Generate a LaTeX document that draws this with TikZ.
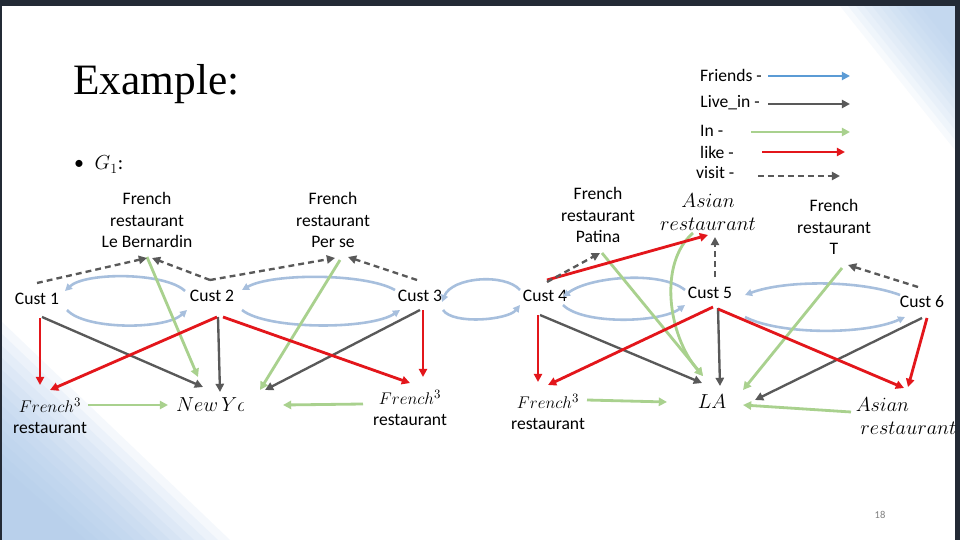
\documentclass[tikz,border=0pt]{standalone}
\usepackage{fontspec}
\setmainfont{Carlito}
\newfontfamily\titlefont{Liberation Serif}
\usetikzlibrary{arrows.meta}
\definecolor{friendblue}{HTML}{5B9BD5}
\definecolor{friendarc}{HTML}{A7BFDD}
\definecolor{liveingray}{HTML}{595959}
\definecolor{ingreen}{HTML}{A9D18E}
\definecolor{likered}{HTML}{E3161B}
\definecolor{framedark}{HTML}{232A35}
\definecolor{bgblue}{HTML}{A9C8EA}

\begin{document}
\begin{tikzpicture}[x=0.03cm, y=-0.03cm, >={Triangle[length=7pt,width=7pt]}]
    % Stili
    \tikzstyle{lbl} = [font=\fontsize{15}{18.5}\selectfont, align=center, inner sep=2pt]
    \tikzstyle{mlbl} = [font=\fontsize{16.5}{19}\selectfont, align=center, inner sep=2pt]
    \tikzstyle{legend} = [font=\fontsize{15}{18}\selectfont, inner sep=0pt]
    \tikzstyle{friends} = [->, draw=friendarc, line width=2.2pt, >={Triangle[length=6pt,width=6pt]}]
    \tikzstyle{livein} = [->, draw=liveingray, line width=2pt]
    \tikzstyle{inrel} = [->, draw=ingreen, line width=2.4pt]
    \tikzstyle{likes} = [->, draw=likered, line width=2.4pt]
    \tikzstyle{visits} = [->, draw=liveingray, line width=2pt, dash pattern=on 5pt off 3.5pt]

    % Sfondo
    \useasboundingbox (0,0) rectangle (960,540);
    \fill[white] (0,0) rectangle (960,540);
    \foreach \d in {0,12,...,144}
        \fill[bgblue, fill opacity=0.11] (0,320+\d) -- (0,540) -- (230-\d,540) -- cycle;
    \foreach \d in {0,8,...,80}
        \fill[bgblue, fill opacity=0.09] (840+\d,6) -- (955,6) -- (955,{150-1.25*\d}) -- cycle;
    \fill[framedark] (0,0) rectangle (960,6);
    \fill[framedark] (955,0) rectangle (960,540);
    \fill[framedark] (0,0) rectangle (2,540);

    % Titolo
    \node[anchor=base west, font=\titlefont\fontsize{37}{40}\selectfont, inner sep=0pt] (title) at (73,95) {Example:};
    \node[anchor=base west, inner sep=0pt, font=\fontsize{17}{19}\selectfont] (g1) at (74,170) {\textbullet\hspace{9pt}$G_1$:};

    % Legenda
    \node[legend, anchor=east] (lgfr) at (762,75) {Friends -};
    \node[legend, anchor=east] (lgli) at (760,103) {Live\_in -};
    \node[legend, anchor=west] (lgin) at (700,131) {In -};
    \node[legend, anchor=west] (lglk) at (700,152) {like -};
    \node[legend, anchor=west] (lgvi) at (696,173) {visit -};
    \coordinate (efr) at (850,76);
    \coordinate (eli) at (850,104);
    \coordinate (ein) at (850,132);
    \coordinate (elk) at (845,152);
    \coordinate (evi) at (840,176);
    \draw[->, draw=friendblue, line width=1.6pt] ([shift={(6,1)}]lgfr.east) -- (efr);
    \draw[livein] ([shift={(8,1)}]lgli.east) -- (eli);
    \draw[inrel] ([shift={(51,1)}]lgin.west) -- (ein);
    \draw[likes] ([shift={(62,0)}]lglk.west) -- (elk);
    \draw[visits] ([shift={(62,3)}]lgvi.west) -- (evi);

    % Nodi
    \node[lbl] (bern) at (147,220) {French\\restaurant\\Le Bernardin};
    \node[lbl] (perse) at (333,220) {French\\restaurant\\Per se};
    \node[lbl] (patina) at (598,215) {French\\restaurant\\Patina};
    \node[mlbl] (asiantop) at (708,212) {$Asian$\\$restaurant$};
    \node[lbl] (frt) at (834,227) {French\\restaurant\\T};
    \node[lbl] (c1) at (37,299) {Cust 1};
    \node[lbl] (c2) at (212,296) {Cust 2};
    \node[lbl] (c3) at (420,296) {Cust 3};
    \node[lbl] (c4) at (545,296) {Cust 4};
    \node[lbl] (c5) at (710,293) {Cust 5};
    \node[lbl] (c6) at (922,302) {Cust 6};
    \node[lbl] (fr1) at (50,416) {$French^3$\\restaurant};
    \begin{scope}
        \clip (170,385) rectangle (243,425);
        \node[mlbl, anchor=west, inner sep=0pt] (ny) at (176,404) {$New\,York$};
    \end{scope}
    \node[lbl] (fr2) at (410,408) {$French^3$\\restaurant};
    \node[lbl] (fr3) at (548,412) {$French^3$\\restaurant};
    \node[mlbl] (la) at (712,402) {$LA$};
    \node[mlbl, align=left] (asianbot) at (906,416) {$Asian$\\\hspace{4pt}$restaurant$};
    \node[font=\fontsize{9}{10}\selectfont, text=gray] (pnum) at (880,515) {18};

    % Friends
    \draw[friends] ([shift={(-27,-5)}]c2.center) .. controls +(-20,-19) and +(20,-19) .. ([shift={(28,-8)}]c1.center);
    \draw[friends] ([shift={(30,11)}]c1.center) .. controls +(18,20) and +(-22,20) .. ([shift={(-25,14)}]c2.center);
    \draw[friends] ([shift={(-25,-6)}]c3.center) .. controls +(-30,-17) and +(30,-17) .. ([shift={(30,-6)}]c2.center);
    \draw[friends] ([shift={(30,14)}]c2.center) .. controls +(25,20) and +(-30,20) .. ([shift={(-20,14)}]c3.center);
    \draw[friends] ([shift={(-25,-6)}]c4.center) .. controls +(-15,-17) and +(10,-25) .. ([shift={(22,6)}]c3.center);
    \draw[friends] ([shift={(23,14)}]c3.center) .. controls +(10,15) and +(-12,15) .. ([shift={(-25,9)}]c4.center);
    \draw[friends] ([shift={(-25,-3)}]c5.center) .. controls +(-25,-20) and +(25,-20) .. ([shift={(18,1)}]c4.center);
    \draw[friends] ([shift={(18,9)}]c4.center) .. controls +(20,20) and +(-25,18) .. ([shift={(-25,12)}]c5.center);
    \draw[friends] ([shift={(-22,-7)}]c6.center) .. controls +(-40,-15) and +(40,-15) .. ([shift={(35,2)}]c5.center);
    \draw[friends] ([shift={(35,24)}]c5.center) .. controls +(35,18) and +(-40,18) .. ([shift={(-17,15)}]c6.center);

    % Live_in
    \draw[livein] ([shift={(5,18)}]c1.center) -- ([shift={(27,-17)}]ny.west);
    \draw[livein] ([shift={(6,21)}]c2.center) -- ([shift={(44,-12)}]ny.west);
    \draw[livein] ([shift={(0,14)}]c3.center) -- ([shift={(89,-14)}]ny.west);
    \draw[livein] ([shift={(-5,19)}]c4.center) -- ([shift={(-10,-19)}]la.center);
    \draw[livein] ([shift={(8,15)}]c5.center) -- ([shift={(8,-16)}]la.center);
    \draw[livein] ([shift={(0,16)}]c6.center) -- ([shift={(43,-2)}]la.center);

    % In
    \draw[inrel] ([shift={(0,37)}]bern.center) -- ([shift={(22,-27)}]ny.west);
    \draw[inrel] ([shift={(38,-11)}]fr1.center) -- ([shift={(-8,1)}]ny.west);
    \draw[inrel] ([shift={(7,40)}]perse.center) -- ([shift={(84,-14)}]ny.west);
    \draw[inrel] ([shift={(-47,-4)}]fr2.center) -- ([shift={(107,1)}]ny.west);
    \draw[inrel] ([shift={(4,38)}]patina.center) -- ([shift={(-9,-26)}]la.center);
    \draw[inrel] ([shift={(-15,21)}]asiantop.center) .. controls +(-35,30) and +(-35,-40) .. ([shift={(-9,-26)}]la.center);
    \draw[inrel] ([shift={(39,-12)}]fr3.center) -- ([shift={(-45,0)}]la.center);
    \draw[inrel] ([shift={(8,41)}]frt.center) -- ([shift={(31,-12)}]la.center);
    \draw[inrel] ([shift={(-55,-4)}]asianbot.center) -- ([shift={(31,3)}]la.center);

    % like
    \draw[likes] ([shift={(3,19)}]c1.center) -- ([shift={(-10,-31)}]fr1.center);
    \draw[likes] ([shift={(5,21)}]c2.center) -- ([shift={(0,-26)}]fr1.center);
    \draw[likes] ([shift={(11,21)}]c2.center) -- ([shift={(0,-25)}]fr2.center);
    \draw[likes] ([shift={(3,14)}]c3.center) -- ([shift={(13,-31)}]fr2.center);
    \draw[likes] ([shift={(-7,19)}]c4.center) -- ([shift={(-10,-30)}]fr3.center);
    \draw[likes] ([shift={(3,14)}]c5.center) -- ([shift={(0,-27)}]fr3.center);
    \draw[likes] ([shift={(2,-16)}]c4.center) -- ([shift={(0,23)}]asiantop.center);
    \draw[likes] ([shift={(8,16)}]c5.center) -- ([shift={(-2,-28)}]asianbot.center);
    \draw[likes] ([shift={(5,16)}]c6.center) -- ([shift={(2,-29)}]asianbot.center);

    % visit
    \draw[visits] ([shift={(0,-16)}]c1.center) -- ([shift={(0,38)}]bern.center);
    \draw[visits] ([shift={(-2,-16)}]c2.center) -- ([shift={(5,38)}]bern.center);
    \draw[visits] ([shift={(-2,-16)}]c2.center) -- ([shift={(2,38)}]perse.center);
    \draw[visits] ([shift={(-3,-16)}]c3.center) -- ([shift={(15,37)}]perse.center);
    \draw[visits] ([shift={(2,-14)}]c4.center) -- ([shift={(2,38)}]patina.center);
    \draw[visits] ([shift={(5,-16)}]c5.center) -- ([shift={(7,25)}]asiantop.center);
    \draw[visits] ([shift={(-4,-15)}]c6.center) -- ([shift={(14,38)}]frt.center);
\end{tikzpicture}
\end{document}
